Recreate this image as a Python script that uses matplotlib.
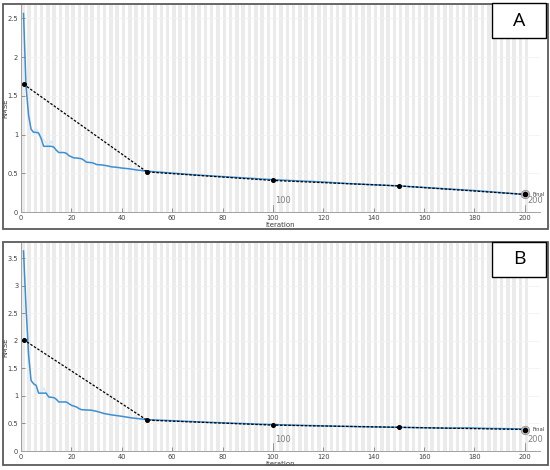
import matplotlib
matplotlib.use("Agg")
import matplotlib.pyplot as plt
from matplotlib.patches import Rectangle
import numpy as np

# ---------------- data ----------------
iter_A = [1, 2, 3, 4, 5, 6, 7, 8, 9, 10, 12, 13, 14, 15, 17, 18, 19, 21, 22, 24, 25, 26, 28, 29,
          30, 32, 34, 36, 38, 40, 43, 46, 50, 60, 70, 80, 90, 100, 110, 120, 130, 140, 150,
          160, 170, 180, 190, 200]
rmse_A = [2.56, 1.62, 1.25, 1.07, 1.03, 1.03, 1.02, 0.95, 0.85, 0.85, 0.85, 0.84, 0.80, 0.77,
          0.77, 0.76, 0.73, 0.70, 0.70, 0.69, 0.67, 0.645, 0.64, 0.63, 0.615, 0.61, 0.60, 0.585,
          0.58, 0.57, 0.56, 0.545, 0.53, 0.505, 0.48, 0.46, 0.44, 0.42, 0.405, 0.39, 0.37,
          0.355, 0.34, 0.32, 0.30, 0.28, 0.255, 0.23]
raw_iter_A = [5, 6, 7, 11, 12, 13]
raw_rmse_A = [1.03, 1.08, 1.02, 0.85, 0.92, 0.84]
val_iter_A = [1, 50, 100, 150, 200]
val_rmse_A = [1.65, 0.52, 0.41, 0.34, 0.23]

iter_B = [1, 2, 3, 4, 5, 6, 7, 9, 10, 11, 13, 14, 15, 18, 19, 20, 22, 23, 24, 28, 30, 33, 36,
          40, 44, 48, 50, 60, 75, 90, 100, 125, 150, 170, 178, 185, 200]
rmse_B = [3.63, 2.6, 1.75, 1.28, 1.22, 1.19, 1.05, 1.05, 1.05, 0.98, 0.97, 0.94, 0.89, 0.89,
          0.86, 0.83, 0.80, 0.77, 0.75, 0.74, 0.72, 0.68, 0.655, 0.63, 0.60, 0.58, 0.57, 0.55,
          0.52, 0.495, 0.48, 0.45, 0.43, 0.415, 0.42, 0.41, 0.40]
raw_iter_B = [8, 9, 10]
raw_rmse_B = [1.05, 1.15, 1.05]
val_iter_B = [1, 50, 100, 150, 200]
val_rmse_B = [2.02, 0.56, 0.47, 0.43, 0.39]

yticks_A = [0, 0.5, 1, 1.5, 2, 2.5]
ytick_labels_A = ["0", "0.5", "1", "1.5", "2", "2.5"]
yticks_B = [0, 0.5, 1, 1.5, 2, 2.5, 3, 3.5]
ytick_labels_B = ["0", "0.5", "1", "1.5", "2", "2.5", "3", "3.5"]
xticks = [0, 20, 40, 60, 80, 100, 120, 140, 160, 180, 200]
panel_letters = ["A", "B"]
marker_labels = ["100", "200"]

# ---------------- figure ----------------
W, H = 550, 470
fig = plt.figure(figsize=(W / 100, H / 100), dpi=100)
fig.patch.set_facecolor("white")

def px_rect(x0, y0, x1, y1):
    return [x0 / W, 1 - y1 / H, (x1 - x0) / W, (y1 - y0) / H]

BLUE = "#3b8fd2"
LIGHT = "#d3e8f8"
TXT = "#404040"

panels = [
    dict(box=(3, 4, 548, 229), ax=(21, 5, 540, 212.3), ylim=2.67,
         it=iter_A, r=rmse_A, rit=raw_iter_A, rr=raw_rmse_A, vit=val_iter_A, vr=val_rmse_A,
         yt=yticks_A, ytl=ytick_labels_A, lab=(492, 3, 546, 38), letter=panel_letters[0]),
    dict(box=(3, 242, 548, 465), ax=(21, 243.3, 540, 451), ylim=3.77,
         it=iter_B, r=rmse_B, rit=raw_iter_B, rr=raw_rmse_B, vit=val_iter_B, vr=val_rmse_B,
         yt=yticks_B, ytl=ytick_labels_B, lab=(492, 242, 546, 277), letter=panel_letters[1]),
]

for p in panels:
    # outer panel frame
    bx = px_rect(*p["box"])
    fig.patches.append(Rectangle((bx[0], bx[1]), bx[2], bx[3], transform=fig.transFigure,
                                 fill=False, edgecolor="#5a5a5a", linewidth=1.3, zorder=0))
    ax = fig.add_axes(px_rect(*p["ax"]))
    ax.set_facecolor("white")
    ax.set_xlim(0, 206)
    ax.set_ylim(0, p["ylim"])

    # epoch stripes
    s = 0.0
    while s < 202:
        ax.axvspan(s, min(s + 1.4, 202), color="#ebebeb", lw=0, zorder=0)
        s += 2.5
    for yv in p["yt"][1:]:
        ax.axhline(yv, color="#f2f2f2", lw=0.6, zorder=0.5)

    # curves
    ax.plot(p["rit"], p["rr"], color=LIGHT, lw=0.9, zorder=2)
    ax.plot(p["it"], p["r"], color=BLUE, lw=1.1, zorder=3)
    ax.plot(p["vit"], p["vr"], color="black", lw=0.9, linestyle=(0, (2, 1.3)),
            marker="o", markersize=2.6, zorder=4)
    # final marker
    ax.plot([p["vit"][-1]], [p["vr"][-1]], marker="o", markersize=6,
            markerfacecolor="#d0d0d0", markeredgecolor="#909090", markeredgewidth=0.6,
            linestyle="none", zorder=5)
    ax.plot([p["vit"][-1]], [p["vr"][-1]], marker="o", markersize=3,
            color="black", linestyle="none", zorder=6)
    ax.text(p["vit"][-1] + 3.2, p["vr"][-1], "Final", fontsize=3.8, color=TXT,
            va="center", ha="left", zorder=6)

    # iteration markers "100", "200"
    for xm, lbl in zip([100, 200], marker_labels):
        ax.plot([xm, xm], [0, 0.1 * p["ylim"] / 2.67], color="#909090", lw=0.6, zorder=3)
        ax.text(xm + 0.8, 0.035 * p["ylim"], lbl, fontsize=6, color="#808080",
                ha="left", va="bottom", zorder=6)

    ax.set_xticks(xticks)
    ax.set_xticklabels([str(v) for v in xticks])
    ax.set_yticks(p["yt"])
    ax.set_yticklabels(p["ytl"])
    ax.tick_params(direction="in", length=3, width=0.6, color="#808080",
                   labelsize=4.8, labelcolor=TXT, pad=2)
    for sp in ["top", "right"]:
        ax.spines[sp].set_visible(False)
    for sp in ["left", "bottom"]:
        ax.spines[sp].set_color("#a0a0a0")
        ax.spines[sp].set_linewidth(0.7)
    ax.set_xlabel("Iteration", fontsize=5, color=TXT, labelpad=1)
    ax.set_ylabel("RMSE", fontsize=5, color=TXT)
    ax.yaxis.set_label_coords(-13 / 519, 0.5)

    # panel letter box
    lb = px_rect(*p["lab"])
    fig.patches.append(Rectangle((lb[0], lb[1]), lb[2], lb[3], transform=fig.transFigure,
                                 facecolor="white", edgecolor="black", linewidth=1.0, zorder=10))
    fig.text(lb[0] + lb[2] / 2, lb[1] + lb[3] / 2, p["letter"], fontsize=14,
             family="Open Sans", ha="center", va="center", color="black", zorder=11)

fig.savefig("out.png", dpi=100, facecolor="white")
